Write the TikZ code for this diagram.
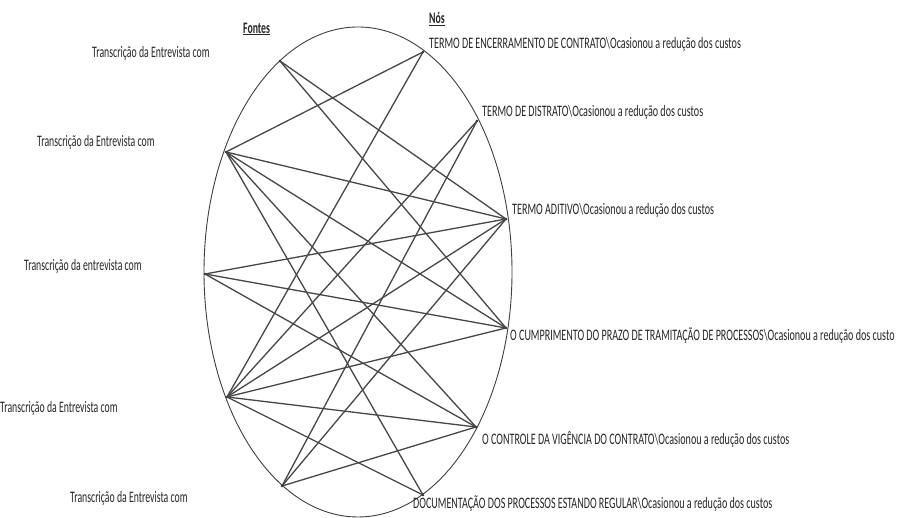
\documentclass[tikz,border=0pt]{standalone}
\usepackage{fontspec}
\setmainfont[FakeStretch=0.61]{Carlito}
\newfontfamily\rightfont[FakeStretch=0.63]{Carlito}
\begin{document}
\begin{tikzpicture}[x=1pt,y=1pt,
  lbl/.style={font=\fontsize{16}{16}\selectfont, inner sep=0pt, anchor=west, text=black!85},
  rlbl/.style={font=\rightfont\fontsize{16}{16}\selectfont, inner sep=0pt, anchor=west, text=black!85},
  hdr/.style={font=\fontsize{16}{16}\selectfont\bfseries, inner sep=0pt, anchor=west, text=black!85},
  pt/.style={circle, fill=black!85, inner sep=0pt, minimum size=2.6pt},
  edge/.style={draw=black!72, line width=1.3pt},
  ring/.style={draw=black!75, line width=0.9pt}]
\useasboundingbox (0,0) rectangle (903,518);
\fill[white] (0,0) rectangle (903,518);
% circle
\draw[ring] (358,246) ellipse [x radius=154, y radius=245];
% headers
\node[hdr] (hf) at (243,489) {\underline{Fontes}};
\node[hdr] (hn) at (429,499) {\underline{Nós}};
% source points
\node[pt] (s1) at (280,457) {};
\node[pt] (s2) at (226,366) {};
\node[pt] (s3) at (205,244) {};
\node[pt] (s4) at (227,121) {};
\node[pt] (s5) at (282,32) {};
% target points
\node[pt] (t1) at (423,466) {};
\node[pt] (t2) at (477,397) {};
\node[pt] (t3) at (506,299) {};
\node[pt] (t4) at (506,190) {};
\node[pt] (t5) at (476,91) {};
\node[pt] (t6) at (423,23) {};
% source labels
\node[lbl] (l1) at (92,465) {Transcrição da Entrevista com};
\node[lbl] (l2) at (37,376) {Transcrição da Entrevista com};
\node[lbl] (l3) at (24,252) {Transcrição da entrevista com};
\node[lbl] (l4) at (0,110) {Transcrição da Entrevista com};
\node[lbl] (l5) at (70,20) {Transcrição da Entrevista com};
% target labels
\node[rlbl] (r1) at (429,474) {TERMO DE ENCERRAMENTO DE CONTRATO\textbackslash Ocasionou a redução dos custos};
\node[rlbl] (r2) at (482,406) {TERMO DE DISTRATO\textbackslash Ocasionou a redução dos custos};
\node[rlbl] (r3) at (512,308) {TERMO ADITIVO\textbackslash Ocasionou a redução dos custos};
\node[rlbl] (r4) at (510,183) {O CUMPRIMENTO DO PRAZO DE TRAMITAÇÃO DE PROCESSOS\textbackslash Ocasionou a redução dos custo};
\node[rlbl] (r5) at (482,79) {O CONTROLE DA VIGÊNCIA DO CONTRATO\textbackslash Ocasionou a redução dos custos};
\node[rlbl] (r6) at (413,15) {DOCUMENTAÇÃO DOS PROCESSOS ESTANDO REGULAR\textbackslash Ocasionou a redução dos custos};
% edges
\draw[edge] (s1.center) -- (t3.center);
\draw[edge] (s1.center) -- (t4.center);
\draw[edge] (s2.center) -- (t1.center);
\draw[edge] (s2.center) -- (t3.center);
\draw[edge] (s2.center) -- (t4.center);
\draw[edge] (s2.center) -- (t5.center);
\draw[edge] (s2.center) -- (t6.center);
\draw[edge] (s3.center) -- (t3.center);
\draw[edge] (s3.center) -- (t4.center);
\draw[edge] (s3.center) -- (t5.center);
\draw[edge] (s4.center) -- (t1.center);
\draw[edge] (s4.center) -- (t2.center);
\draw[edge] (s4.center) -- (t3.center);
\draw[edge] (s4.center) -- (t4.center);
\draw[edge] (s4.center) -- (t5.center);
\draw[edge] (s4.center) -- (t6.center);
\draw[edge] (s5.center) -- (t2.center);
\draw[edge] (s5.center) -- (t3.center);
\draw[edge] (s5.center) -- (t5.center);
\end{tikzpicture}
\end{document}
